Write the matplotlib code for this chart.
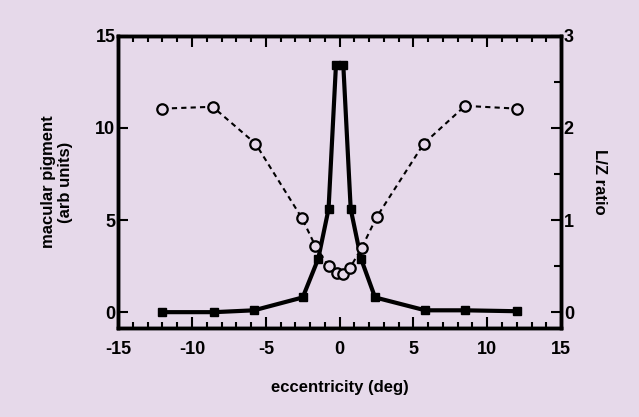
import matplotlib
matplotlib.use('Agg')
import matplotlib.pyplot as plt
from matplotlib.ticker import MultipleLocator

plt.rcParams['font.family'] = ['Liberation Sans', 'DejaVu Sans']
plt.rcParams['font.weight'] = 'bold'
plt.rcParams['axes.unicode_minus'] = False

# macular pigment (left axis)
mp_x = [-12, -8.5, -5.8, -2.5, -1.45, -0.75, -0.25, 0.25, 0.75, 1.45, 2.4, 5.8, 8.5, 12]
mp_y = [0.0, 0.0, 0.1, 0.8, 2.9, 5.6, 13.4, 13.4, 5.6, 2.9, 0.8, 0.1, 0.1, 0.05]

# L/Z ratio (right axis)
lz_x = [-12, -8.6, -5.7, -2.55, -1.65, -0.75, -0.2, 0.25, 0.7, 1.5, 2.5, 5.7, 8.5, 12]
lz_y = [2.21, 2.23, 1.83, 1.02, 0.72, 0.50, 0.43, 0.41, 0.48, 0.70, 1.03, 1.83, 2.24, 2.21]

bg = '#e6d9ea'

fig = plt.figure(figsize=(6.39, 4.17), dpi=100, facecolor=bg)
ax = fig.add_axes([0.185, 0.213, 0.693, 0.701], facecolor=bg)
ax2 = ax.twinx()

ax.plot(mp_x, mp_y, color='black', lw=3, marker='s', ms=5.5, zorder=3)
ax2.plot(lz_x, lz_y, color='black', lw=1.5, ls=(0, (2.5, 2)), marker='o', ms=7.5,
         mfc=bg, mec='black', mew=1.6)

ax.set_xlim(-15, 15)
ax.set_ylim(-0.87, 15)
ax2.set_ylim(-0.174, 3)

ax.xaxis.set_major_locator(MultipleLocator(5))
ax.xaxis.set_minor_locator(MultipleLocator(1))
ax.set_yticks([0, 5, 10, 15])
ax2.set_yticks([0, 1, 2, 3])
ax2.yaxis.set_minor_locator(MultipleLocator(0.5))

ax.tick_params(axis='x', which='both', direction='in', top=True, labelsize=13, width=1.5)
ax.tick_params(axis='x', which='major', length=8, pad=9)
ax.tick_params(axis='x', which='minor', length=4)
ax.tick_params(axis='y', which='major', direction='in', length=7, width=1.5, labelsize=13, pad=2)
ax2.tick_params(axis='y', which='major', direction='in', length=7, width=1.5, labelsize=13, pad=2)
ax2.tick_params(axis='y', which='minor', direction='in', length=5, width=1.5)

for a in (ax, ax2):
    for s in a.spines.values():
        s.set_linewidth(2.5)

ax.set_xlabel('eccentricity (deg)', fontsize=12, fontweight='bold', labelpad=16)
ax.set_ylabel('macular pigment\n(arb units)', fontsize=12, fontweight='bold', labelpad=16)
ax2.set_ylabel('L/Z ratio', fontsize=12, fontweight='bold', rotation=270, labelpad=24)

fig.savefig('out.png', dpi=100, facecolor=bg)
